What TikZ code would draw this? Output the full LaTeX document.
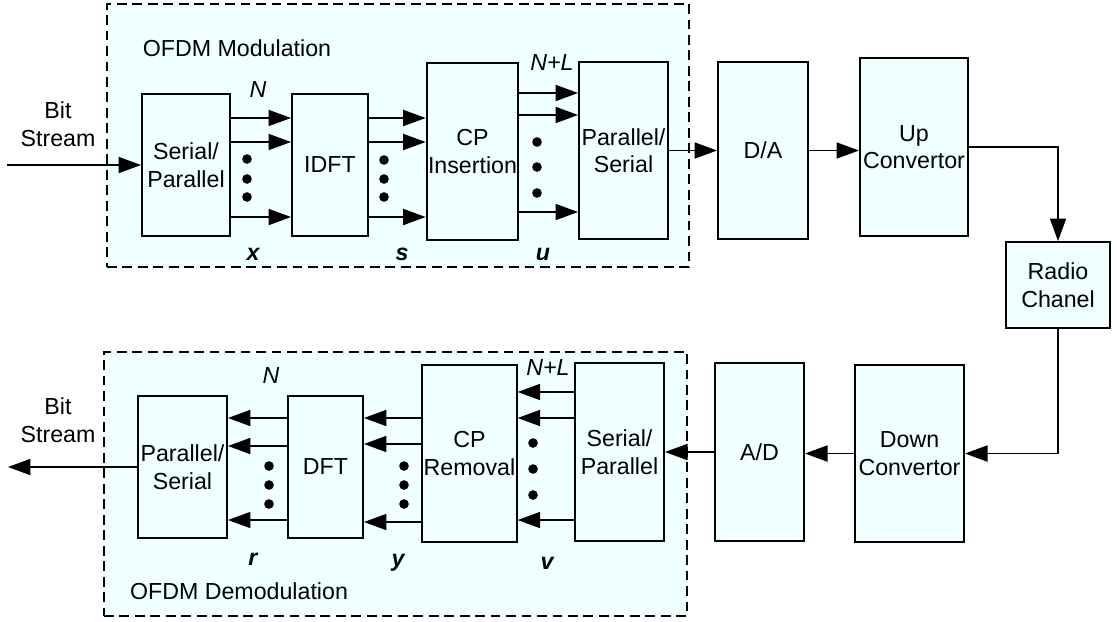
\documentclass[tikz,border=0pt]{standalone}
\usepackage{fontspec}
\setmainfont{Liberation Sans}
\usetikzlibrary{arrows.meta,positioning,calc}
\definecolor{blkfill}{RGB}{240,255,255}

\begin{document}
\begin{tikzpicture}[x=0.025cm, y=-0.025cm,
    font=\fontsize{16.5}{19.5}\selectfont,
    blk/.style={draw, fill=blkfill, line width=1.4pt, align=center, inner sep=1pt},
    grp/.style={draw, fill=blkfill, dash pattern=on 7pt off 4pt, line width=1.3pt},
    lbl/.style={font=\fontsize{16.5}{19.5}\selectfont\itshape},
    vec/.style={font=\fontsize{16.5}{19.5}\selectfont\bfseries\itshape},
    arr/.style={-{Triangle[length=16pt, width=11.5pt]}, line width=0.9pt},
]
\useasboundingbox (0,0) rectangle (1117,621);

% Groups
\node[grp, minimum width=14.55cm, minimum height=6.575cm] (modgrp) at (398,135.5) {};
\node[grp, minimum width=14.575cm, minimum height=6.6cm] (demodgrp) at (395.5,484) {};
\node (modtxt) at (237,48) {OFDM Modulation};
\node (demodtxt) at (239,591) {OFDM Demodulation};

% Top: Transmitter
\node[blk, minimum width=2.2cm, minimum height=3.55cm] (sp1) at (186,165) {Serial/\\Parallel};
\node[blk, minimum width=1.9cm, minimum height=3.55cm] (idft) at (330,165) {IDFT};
\node[blk, minimum width=2.275cm, minimum height=4.425cm] (cpi) at (472.5,151.5) {CP\\Insertion};
\node[blk, minimum width=2.225cm, minimum height=4.425cm] (ps1) at (623.5,150.5) {Parallel/\\Serial};
\node[blk, minimum width=2.25cm, minimum height=4.425cm] (da) at (763,150.5) {D/A};
\node[blk, minimum width=2.7cm, minimum height=4.45cm] (up) at (914,147) {Up\\Convertor};
\node[blk, minimum width=2.6cm, minimum height=2.15cm] (radio) at (1058,285) {Radio\\Chanel};

% Bottom: Receiver
\node[blk, minimum width=2.725cm, minimum height=4.425cm] (down) at (909.5,453.5) {Down\\Convertor};
\node[blk, minimum width=2.225cm, minimum height=4.45cm] (ad) at (759.5,452) {A/D};
\node[blk, minimum width=2.225cm, minimum height=4.45cm] (sp2) at (619.5,452) {Serial/\\Parallel};
\node[blk, minimum width=2.275cm, minimum height=4.425cm] (cpr) at (469.5,453.5) {CP\\Removal};
\node[blk, minimum width=1.875cm, minimum height=3.55cm] (dft) at (325.5,467) {DFT};
\node[blk, minimum width=2.225cm, minimum height=3.55cm] (ps2) at (182.5,467) {Parallel/\\Serial};

% Labels
\node[align=center] (bitin) at (58,124) {Bit\\Stream};
\node[align=center] (bitout) at (58,420) {Bit\\Stream};
\node[lbl] (ntop) at (258,90) {N};
\node[lbl] (nltop) at (552,63) {N+L};
\node[lbl] (nbot) at (271,376) {N};
\node[lbl] (nlbot) at (548,368) {N+L};
\node[vec] (xvec) at (253,254) {x};
\node[vec] (svec) at (402,254) {s};
\node[vec] (uvec) at (543,254) {u};
\node[vec] (rvec) at (253,559) {r};
\node[vec] (yvec) at (398,563) {y};
\node[vec] (vvec) at (547,563) {v};

% Dots
\foreach \x/\y in {247/159, 247/179, 247/197, 384/160, 384/179, 384/197, 537/142, 537/167, 537/193,
                   533/443, 533/469, 533/495, 404/466, 404/485, 404/504, 269/466, 269/485, 269/504}
    \fill (\x,\y) circle (0.12cm);

% Arrows
\coordinate (in) at (7,165);
\coordinate (out) at (8,467);
\draw[arr] (in) -- (sp1.west);
\foreach \s in {1.175, 0.575, -1.3} {
    \draw[arr] ([yshift=\s cm]sp1.east) -- ([yshift=\s cm]idft.west);
    \draw[arr] ([yshift=\s cm]idft.east) -- ([yshift=\s cm]idft.east -| cpi.west);
}
\foreach \s in {1.4625, 0.9125, -1.5125}
    \draw[arr] ([yshift=\s cm]cpi.east) -- ([yshift=\s cm]cpi.east -| ps1.west);
\draw[arr] (ps1.east) -- (da.west);
\draw[arr] (da.east) -- (da.east -| up.west);
\draw[arr] (up.east) -| (radio.north);
\draw[arr] (radio.south) |- (down.east);
\draw[arr] (down.west) -- (down.west -| ad.east);
\draw[arr] (ad.west) -- (ad.west -| sp2.east);
\foreach \s in {1.5, 0.85, -1.7}
    \draw[arr] ([yshift=\s cm]sp2.west) -- ([yshift=\s cm]sp2.west -| cpr.east);
\foreach \s in {0.8875, 0.2375, -1.7125}
    \draw[arr] ([yshift=\s cm]cpr.west) -- ([yshift=\s cm]cpr.west -| dft.east);
\foreach \s in {1.225, 0.525, -1.325}
    \draw[arr] ([yshift=\s cm]dft.west) -- ([yshift=\s cm]ps2.east);
\draw[arr] (ps2.west) -- (out);
\end{tikzpicture}
\end{document}
